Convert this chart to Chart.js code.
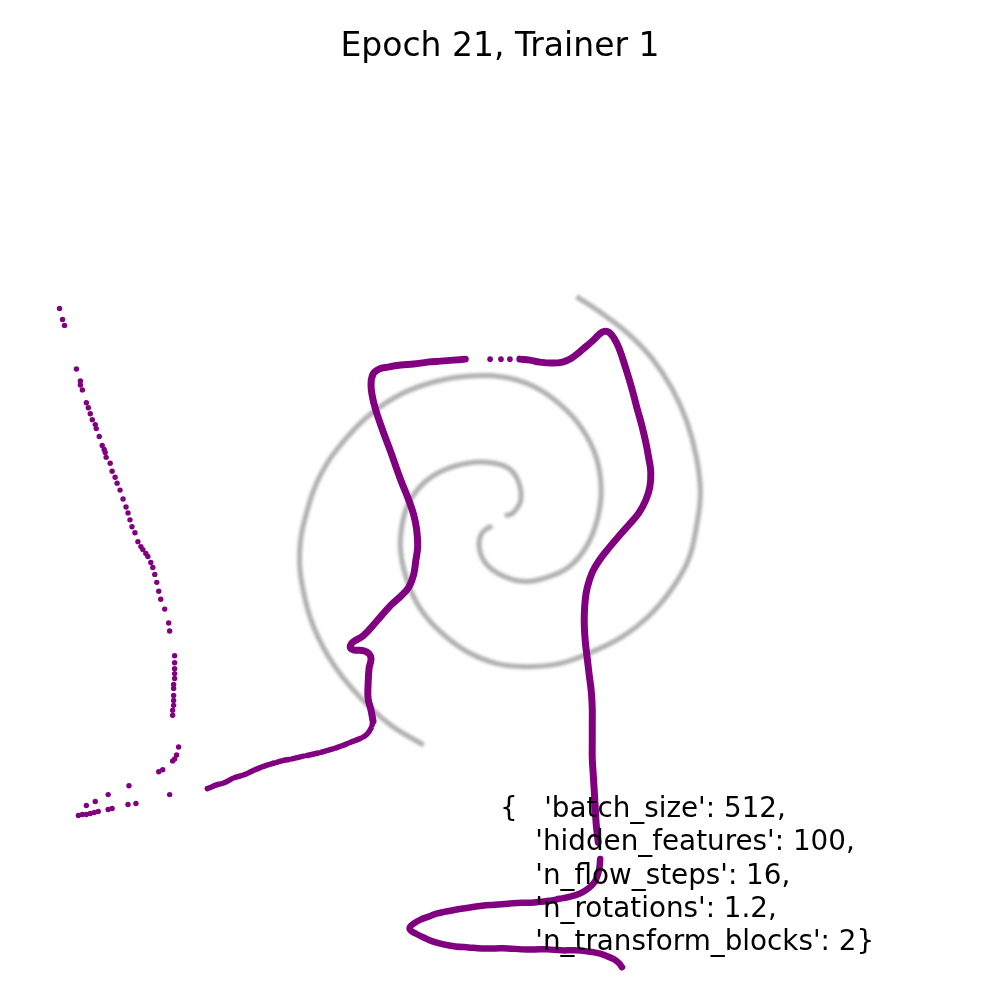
<!DOCTYPE html>
<html>
<head>
<meta charset="utf-8">
<script src="https://cdn.jsdelivr.net/npm/chart.js@4.4.1/dist/chart.umd.min.js"></script>
<style>
  html, body { margin: 0; padding: 0; background: #fff; }
  #wrap { width: 1000px; height: 1000px; }
</style>
</head>
<body>
<div id="wrap"><canvas id="myChart" width="1000" height="1000"></canvas></div>
<script>
// values, in plot units (x right, y down)
const titleText = 'Epoch 21, Trainer 1';
const paramLines = [
  "{   'batch_size': 512,",
  "    'hidden_features': 100,",
  "    'n_flow_steps': 16,",
  "    'n_rotations': 1.2,",
  "    'n_transform_blocks': 2}"
];

// target density: two spiral arms
const spiralArmA = [
  [505,516],[513,513],[521,500],[518,480],[507,467],[487,462],[467,463],[443,470],
  [423,483],[408,503],[401,527],[400,553],[407,583],[420,610],[440,633],[467,653],
  [497,665],[527,668],[560,665],[593,653],[623,638],[650,617],[673,590],[690,560],
  [698,527],[702,493],[698,457],[688,420],[673,387],[653,357],[630,333],[603,312],[577,295]
];
const spiralArmB = [
  [492,526],[482,533],[479,547],[485,563],[500,575],[523,582],[547,578],[570,567],
  [587,547],[598,520],[602,490],[597,457],[582,427],[560,403],[533,385],[503,376],
  [470,375],[437,380],[403,392],[370,413],[343,440],[320,473],[305,513],[298,553],
  [302,593],[313,630],[333,667],[360,700],[390,727],[423,747]
];

// model samples: sparse dots on the left
const leftDots = [
  [56,307],[59,318],[61,324],[73,368],[77,380],[77,384],[79,389],[83,402],[85,407],
  [87,413],[89,419],[92,424],[93,428],[96,436],[99,445],[101,449],[102,452],[103,457],
  [107,463],[109,471],[112,477],[114,483],[117,490],[120,499],[123,507],[125,513],
  [127,520],[129,527],[132,533],[135,542],[138,547],[140,550],[143,554],[145,557],
  [148,563],[150,568],[152,575],[154,583],[156,592],[158,600],[162,610],[166,624],
  [167,632],[172,657],[172,664],[172,670],[172,675],[172,680],[171,686],[171,690],
  [171,697],[171,702],[171,707],[170,712],[170,717],
  [176,749],[174,757],[172,761],[170,763],[160,772],[156,774],[167,797],
  [126,788],[105,797],[133,806],[125,807],[92,804],[83,808],[105,812],[109,811],
  [75,818],[79,817],[83,817],[87,816],[91,815],[95,814]
];
// model samples: dotted trail along the bottom
const lowerTrail = [
  [205,791],[215,787],[222,785],[232,780],[242,777],[253,772],[263,768],[273,765],
  [280,763],[290,761],[303,758],[317,755],[328,752],[340,748],[350,744],[360,740],
  [366,736],[370,730],[372,723]
];
// model samples: dense main path
const mainPath = [
  [372,723],[370,712],[367,700],[367,687],[368,670],[370,660],[368,655],[363,652],
  [352,651],[349,648],[352,643],[362,637],[375,623],[390,606],[400,597],[408,588],
  [413,575],[415,562],[417,547],[416,530],[413,515],[408,500],[400,480],[390,452],
  [380,425],[373,403],[370,385],[372,373],[378,368],[387,366],[400,364],[413,363],
  [427,361],[440,360],[453,359],[465,358]
];
const gapDots = [[490,358],[501,358],[510,358]];
const rightPath = [
  [520,358],[530,359],[540,361],[553,362],[563,361],[572,357],[580,351],[587,345],
  [594,339],[600,333],[605,330],[610,331],[615,337],[620,347],[627,368],[633,388],
  [638,407],[643,425],[647,442],[650,458],[652,472],[651,487],[647,500],[640,513],
  [630,525],[621,535],[610,548],[600,561],[593,573],[588,588],[586,600],[585,615],
  [585,627],[586,643],[588,660],[590,677],[592,693],[593,710],[593,727],[593,743],
  [593,760],[594,777],[595,793],[596,810],[597,827],[599,845]
];
const bottomLoop = [
  [601,862],[600,872],[597,882],[593,888],[587,893],[580,897],[570,900],[560,902],
  [550,904],[540,905],[532,906],[522,906],[508,907],[495,908],[482,909],[468,911],
  [455,913],[445,915],[436,917],[428,920],[420,923],[413,927],[409,931],[410,934],
  [415,937],[423,941],[432,945],[443,948],[455,950],[468,951],[482,952],[495,952],
  [508,952],[522,953],[535,953],[548,953],[562,954],[575,954],[588,955],[600,957],
  [608,960],[615,963],[620,967],[623,971]
];

const purple = '#800080';
const grey = 'rgba(110,110,110,0.55)';

const lineSet = (data, width, extra) => Object.assign({
  data: data,
  showLine: true,
  borderColor: purple,
  borderWidth: width,
  borderCapStyle: 'round',
  borderJoinStyle: 'round',
  pointRadius: 0,
  tension: 0.4,
  order: 1,
}, extra || {});

const dotSet = (data, radius) => ({
  data: data,
  showLine: false,
  pointRadius: radius,
  pointBorderWidth: 0,
  pointBackgroundColor: purple,
  order: 1,
});

// soft edge on the spiral, like the blurred density image
const blurPlugin = {
  id: 'blurSpiral',
  beforeDatasetDraw(chart, args) {
    const ds = chart.data.datasets[args.index];
    if (ds.blur) {
      chart.ctx.save();
      chart.ctx.filter = 'blur(' + ds.blur + 'px)';
    }
  },
  afterDatasetDraw(chart, args) {
    if (chart.data.datasets[args.index].blur) chart.ctx.restore();
  }
};

const textPlugin = {
  id: 'texts',
  afterDraw(chart) {
    const ctx = chart.ctx;
    ctx.save();
    ctx.fillStyle = '#000';
    ctx.textBaseline = 'alphabetic';
    ctx.textAlign = 'center';
    ctx.font = '33px "DejaVu Sans"';
    ctx.fillText(titleText, 500, 56);
    ctx.textAlign = 'left';
    ctx.font = '27.8px "DejaVu Sans"';
    paramLines.forEach((line, i) => {
      ctx.fillText(line, 500, 817 + i * 33.3);
    });
    ctx.restore();
  }
};

const ctx = document.getElementById('myChart');
new Chart(ctx, {
  type: 'scatter',
  data: {
    datasets: [
      { data: spiralArmA, showLine: true, borderColor: grey, borderWidth: 5, pointRadius: 0, tension: 0.4, blur: 1.4, order: 2 },
      { data: spiralArmB, showLine: true, borderColor: grey, borderWidth: 5, pointRadius: 0, tension: 0.4, blur: 1.4, order: 2 },
      dotSet(leftDots, 2.7),
      lineSet(lowerTrail, 5.5, { borderDash: [12, 3] }),
      lineSet(mainPath, 7),
      dotSet(gapDots, 2.8),
      lineSet(rightPath, 7),
      lineSet(bottomLoop, 6.5),
    ],
  },
  options: {
    responsive: false,
    devicePixelRatio: 1,
    animation: false,
    layout: { padding: 0 },
    scales: {
      x: { type: 'linear', min: 0, max: 1000, display: false },
      y: { type: 'linear', min: 0, max: 1000, reverse: true, display: false },
    },
    plugins: {
      legend: { display: false },
      tooltip: { enabled: false },
      title: { display: false },
    },
  },
  plugins: [blurPlugin, textPlugin],
});
</script>
</body>
</html>
